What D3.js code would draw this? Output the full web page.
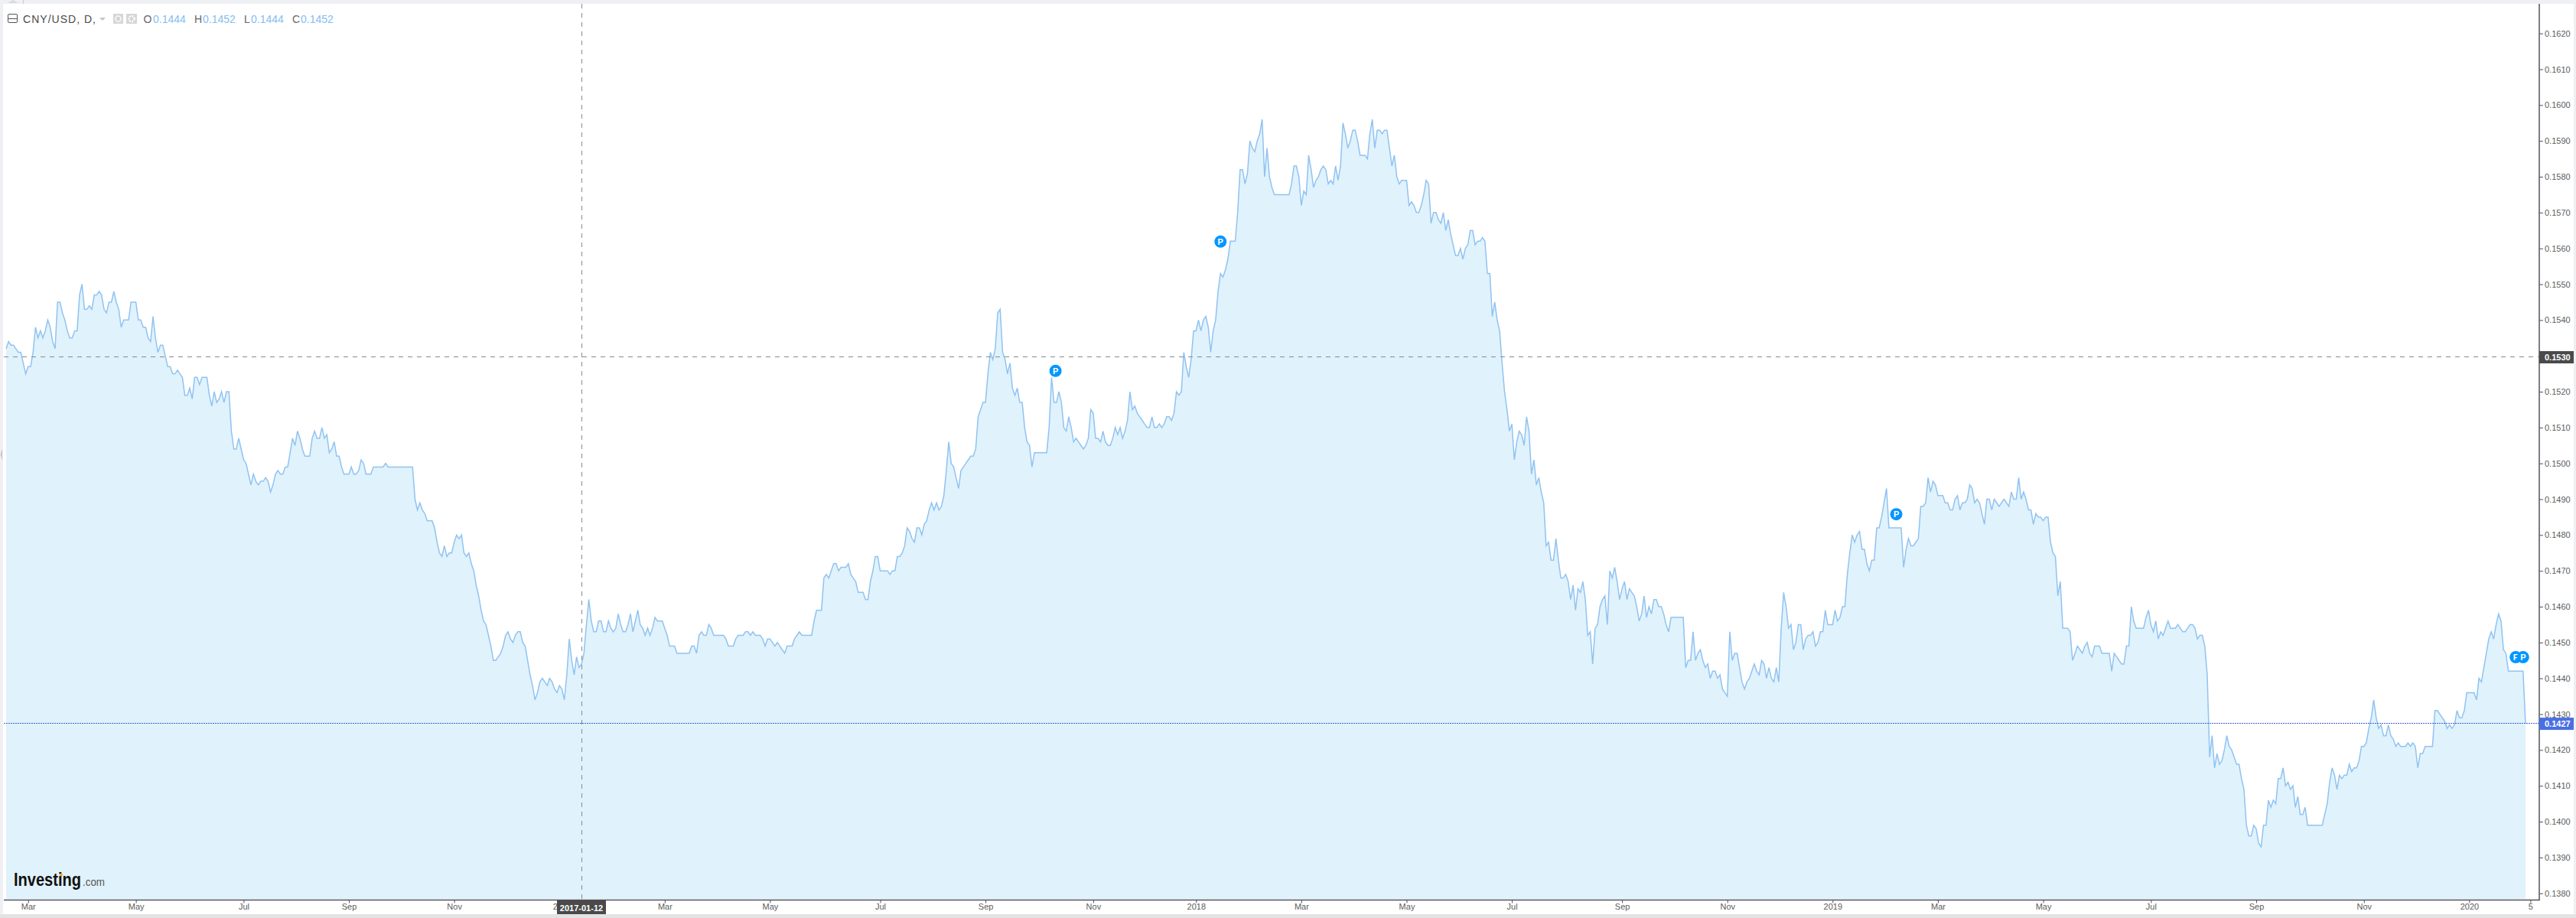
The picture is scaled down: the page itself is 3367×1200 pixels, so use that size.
<!DOCTYPE html>
<html>
<head>
<meta charset="utf-8">
<title>CNY/USD, D</title>
<script src="https://cdnjs.cloudflare.com/ajax/libs/d3/7.8.5/d3.min.js"></script>
<style>
    html, body { margin: 0; padding: 0; background: #ffffff; overflow: hidden; }
    svg { display: block; font-family: "Liberation Sans", Arial, sans-serif; }
</style>
</head>
<body>
<svg id="chart"></svg>
<script>
// Daily closes in 1/10000 USD, one value per trading day
const closes2016 = [
    1532,1534,1533,1533,1532,1531,1531,1528,1525,1527,1527,1531,1538,1535,1537,1535,1537,1540,1538,1534,
    1532,1545,1545,1542,1540,1537,1535,1535,1537,1537,1547,1550,1543,1543,1544,1543,1547,1547,1548,1547,
    1543,1542,1545,1545,1548,1545,1543,1538,1540,1540,1540,1545,1545,1545,1540,1540,1538,1538,1535,1534,
    1541,1535,1531,1533,1533,1530,1527,1527,1525,1525,1526,1525,1524,1519,1519,1521,1518,1524,1524,1522,
    1524,1524,1524,1519,1516,1520,1517,1518,1520,1517,1520,1520,1509,1504,1504,1507,1504,1501,1500,1497,
    1494,1497,1495,1494,1495,1495,1496,1495,1492,1494,1497,1498,1497,1497,1499,1499,1503,1507,1505,1509,
    1507,1504,1502,1502,1502,1507,1509,1507,1507,1510,1507,1508,1503,1504,1506,1502,1502,1499,1497,1497,
    1497,1499,1497,1497,1498,1501,1500,1497,1497,1497,1499,1499,1499,1499,1499,1500,1499,1499,1499,1499,
    1499,1499,1499,1499,1499,1499,1499,1490,1487,1489,1487,1486,1484,1484,1484,1482,1478,1475,1474,1477,
    1474,1475,1475,1478,1480,1479,1480,1475,1474,1475,1472,1470,1466,1463,1459,1456,1455,1452,1449,1445,
    1445,1446,1447,1449,1452,1453,1451,1450,1452,1453,1453,1450,1449,1445,1441,1438,1434,1436,1439,1440,
    1439,1438,1440,1439,1437,1436,1438
];
const closes2017 = [
    1437,1434,1441,1451,1445,1441,1446,1443,1444,1447,1455,1462,1456,1453,1453,1456,1456,1453,1453,1456,
    1454,1453,1454,1458,1455,1453,1453,1455,1458,1453,1456,1459,1455,1454,1452,1454,1452,1454,1457,1456,
    1456,1456,1454,1452,1449,1449,1449,1447,1447,1447,1447,1447,1447,1449,1449,1447,1452,1453,1452,1452,
    1455,1454,1452,1452,1452,1452,1452,1451,1449,1449,1449,1451,1452,1452,1452,1453,1453,1452,1453,1452,
    1452,1452,1451,1449,1451,1451,1450,1449,1450,1449,1448,1447,1449,1449,1449,1451,1452,1453,1452,1452,
    1452,1452,1452,1456,1459,1459,1459,1468,1469,1468,1470,1472,1472,1470,1471,1471,1471,1472,1469,1468,
    1467,1464,1464,1464,1462,1462,1467,1470,1474,1474,1470,1470,1470,1470,1469,1470,1470,1474,1474,1475,
    1477,1482,1481,1479,1478,1482,1482,1480,1483,1484,1487,1489,1487,1489,1487,1488,1491,1498,1506,1500,
    1499,1496,1493,1498,1499,1500,1501,1502,1502,1504,1513,1515,1517,1517,1525,1531,1529,1532,1542,1543,
    1531,1529,1525,1528,1521,1519,1521,1517,1517,1510,1506,1505,1499,1503,1503,1503,1503,1503,1503,1510,
    1524,1517,1517,1520,1517,1510,1509,1513,1510,1506,1507,1506,1505,1504,1505,1507,1515,1514,1507,1507,
    1506,1509,1506,1505,1505,1507,1510,1508,1510,1507,1509,1512,1520,1515,1516,1514,1513,1512,1511,1510,
    1510,1513,1510,1510,1511,1510,1511,1513,1513,1512,1514,1520,1519,1520,1531,1527,1524,1529,1537
];
const closes2018 = [
    1537,1540,1537,1540,1541,1538,1531,1537,1540,1548,1553,1552,1554,1557,1562,1562,1562,1570,1582,1582,
    1578,1581,1590,1588,1587,1590,1592,1596,1580,1588,1580,1577,1575,1575,1575,1575,1575,1575,1575,1578,
    1583,1583,1580,1572,1576,1575,1586,1582,1577,1579,1580,1582,1583,1582,1578,1579,1578,1583,1579,1583,
    1595,1592,1588,1590,1593,1593,1590,1586,1586,1586,1585,1592,1596,1588,1593,1593,1592,1593,1593,1588,
    1583,1586,1580,1578,1579,1579,1579,1572,1573,1572,1570,1570,1572,1575,1579,1578,1567,1570,1570,1568,
    1567,1570,1565,1568,1564,1561,1558,1558,1560,1557,1560,1561,1565,1565,1561,1562,1562,1563,1562,1553,
    1553,1541,1545,1540,1537,1528,1520,1515,1509,1511,1501,1506,1509,1508,1505,1513,1509,1497,1501,1494,
    1496,1492,1489,1477,1478,1473,1473,1479,1473,1468,1468,1469,1467,1462,1466,1459,1465,1464,1467,1462,
    1452,1453,1444,1454,1455,1460,1462,1463,1455,1470,1468,1471,1467,1462,1465,1467,1462,1465,1464,1463,
    1460,1456,1458,1463,1457,1460,1458,1462,1462,1460,1460,1458,1455,1453,1457,1457,1457,1457,1457,1457,
    1443,1445,1445,1453,1445,1447,1448,1445,1443,1444,1440,1442,1442,1440,1441,1437,1436,1435,1453,1445,
    1447,1447,1443,1439,1437,1439,1440,1442,1444,1442,1441,1445,1444,1440,1443,1440,1439,1443,1439,1454,
    1464,1460,1454,1455,1448,1450,1455,1455,1448,1451,1452,1452,1453,1449,1450,1453,1453,1459,1455,1455
];
const closes2019 = [
    1455,1459,1456,1457,1460,1460,1469,1475,1480,1478,1480,1481,1476,1476,1472,1470,1473,1473,1482,1482,
    1485,1489,1493,1482,1482,1482,1482,1482,1482,1471,1476,1479,1477,1477,1478,1479,1488,1488,1489,1496,
    1492,1495,1494,1491,1491,1491,1489,1489,1487,1487,1490,1491,1487,1489,1489,1490,1494,1493,1489,1490,
    1489,1486,1483,1490,1490,1487,1490,1489,1488,1489,1490,1489,1488,1492,1490,1490,1496,1490,1492,1490,
    1487,1487,1483,1486,1485,1485,1484,1485,1485,1478,1475,1474,1463,1467,1454,1454,1454,1453,1445,1447,
    1449,1448,1447,1449,1450,1447,1446,1449,1449,1449,1447,1447,1447,1447,1442,1447,1446,1445,1444,1444,
    1449,1449,1460,1456,1454,1454,1454,1454,1457,1459,1455,1453,1456,1451,1453,1452,1454,1456,1454,1454,
    1454,1455,1454,1453,1453,1454,1455,1455,1454,1451,1452,1452,1449,1441,1418,1424,1415,1419,1416,1417,
    1420,1424,1421,1420,1418,1416,1416,1412,1409,1399,1396,1396,1399,1398,1394,1393,1399,1399,1406,1404,
    1406,1405,1412,1412,1415,1410,1411,1409,1410,1404,1407,1402,1402,1404,1399,1399,1399,1399,1399,1399,
    1399,1402,1405,1411,1415,1413,1409,1413,1412,1413,1413,1416,1414,1415,1415,1417,1421,1421,1422,1426,
    1429,1434,1429,1426,1427,1424,1424,1427,1424,1423,1421,1422,1421,1421,1421,1422,1421,1422,1421,1415,
    1419,1419,1421,1421,1421,1421,1431,1431,1430,1429,1428,1426,1427,1426,1427,1431,1429,1429,1431,1436
];
const closes2020 = [
    1436,1436,1436,1434,1440,1439,1443,1447,1451,1453,1451,1455,1458,1456,1448,1447,1442,1442,1442,1442,1442,1442,1442,1427.4
];

// Time axis: the chart runs on trading-day index, not on calendar time
const tickBars = [9, 53, 97, 140, 183, 227, 269, 312, 357, 400, 444, 486, 529, 572, 615, 660, 703, 746, 789, 832, 876, 919, 963, 1006, 1031];
const tickLabels = ["Mar", "May", "Jul", "Sep", "Nov", "2017", "Mar", "May", "Jul", "Sep", "Nov", "2018", "Mar", "May", "Jul", "Sep", "Nov", "2019", "Mar", "May", "Jul", "Sep", "Nov", "2020", "5"];
const priceTicks = d3.range(1380, 1621, 10).map(d => d / 10000);

// Event bubbles on the line
const eventBars = [428.6, 496, 772, 1025, 1028];
const eventPrices = [0.15258, 0.15619, 0.14858, 0.14459, 0.14459];
const eventLetters = ["P", "P", "P", "F", "P"];

// Legend, crosshair and last price
const legendLabels = ["O", "H", "L", "C"];
const legendValues = ["0.1444", "0.1452", "0.1444", "0.1452"];
const crossBar = 235.1;
const crossPrice = 0.15297;
const crossDate = "2017-01-12";
const lastPrice = 0.14274;

const closes = [...closes2016, ...closes2017, ...closes2018, ...closes2019, ...closes2020].map(d => d / 10000);

// Dimensions
const width = 3367;
const height = 1200;
const axisX = 3319;
const axisY = 1176.5;
const frameRight = 3364;

const lineColor = "#90c3f2";
const areaColor = "#e0f2fb";
const axisColor = "#50535e";
const textColor = "#5d5d5d";
const bubbleColor = "#0496ff";

const svg = d3.select("#chart")
    .attr("width", width)
    .attr("height", height)
    .attr("viewBox", [0, 0, width, height]);

// Scales
const x = d3.scaleLinear().domain([0, 1029]).range([8, 3301]);
const y = d3.scaleLinear().domain([0.138, 0.162]).range([1167.7, 43.7]);

// Frame around the chart
svg.append("rect").attr("width", width).attr("height", height).attr("fill", "#eef0f4");
svg.append("rect").attr("x", 4).attr("y", 5).attr("width", frameRight - 4).attr("height", 1190).attr("fill", "#ffffff");
svg.append("rect").attr("x", 0).attr("y", 1195).attr("width", width).attr("height", 5).attr("fill", "#e3e3e3");
svg.append("path").attr("d", "M10,4 L17,0 L24,4 Z").attr("fill", "#cfd2d8").attr("opacity", 0.7);
svg.append("line").attr("x1", 30.5).attr("x2", 30.5).attr("y1", 0).attr("y2", 5).attr("stroke", "#c9ccd2");
svg.append("path").attr("d", "M3,586 L0.5,594 L3,602 Z").attr("fill", "#c8c8c8");

// Area and line
const area = d3.area()
    .x((d, i) => x(i))
    .y0(1175)
    .y1(d => y(d));

const line = d3.line()
    .x((d, i) => x(i))
    .y(d => y(d));

svg.append("path")
    .datum(closes)
    .attr("d", area)
    .attr("fill", areaColor);

svg.append("path")
    .datum(closes)
    .attr("d", line)
    .attr("fill", "none")
    .attr("stroke", lineColor)
    .attr("stroke-width", 1.5)
    .attr("stroke-linejoin", "miter");

// Last price line, snapped to the pixel grid
const lastY = Math.floor(y(lastPrice)) + 0.5;
svg.append("line")
    .attr("x1", 5).attr("x2", axisX)
    .attr("y1", lastY).attr("y2", lastY)
    .attr("stroke", "#3f63d9")
    .attr("stroke-width", 1)
    .attr("stroke-dasharray", "2 1");

// Crosshair
const crossX = Math.floor(x(crossBar)) + 0.5;
const crossY = Math.floor(y(crossPrice)) + 0.5;
svg.append("line")
    .attr("x1", crossX).attr("x2", crossX)
    .attr("y1", 5).attr("y2", axisY)
    .attr("stroke", "#8a8a8a")
    .attr("stroke-dasharray", "6 6");

svg.append("line")
    .attr("x1", 5).attr("x2", axisX)
    .attr("y1", crossY).attr("y2", crossY)
    .attr("stroke", "#8a8a8a")
    .attr("stroke-dasharray", "6 6");

// Event bubbles
const bubbles = svg.append("g")
    .selectAll("g")
    .data(eventLetters)
    .join("g")
    .attr("transform", (d, i) => `translate(${x(eventBars[i])},${y(eventPrices[i])})`);

bubbles.append("circle")
    .attr("r", 8)
    .attr("fill", bubbleColor);

bubbles.append("text")
    .attr("text-anchor", "middle")
    .attr("y", 4)
    .attr("fill", "#ffffff")
    .style("font-size", "11px")
    .style("font-weight", "bold")
    .text(d => d);

// Price axis
const priceAxis = svg.append("g")
    .attr("transform", `translate(${axisX},0)`)
    .call(d3.axisRight(y).tickValues(priceTicks).tickFormat(d3.format(".4f")).tickSize(5).tickPadding(2));

priceAxis.select(".domain").remove();
priceAxis.selectAll("line").attr("stroke", axisColor);
priceAxis.selectAll("text")
    .attr("fill", textColor)
    .style("font-size", "11px")
    .style("font-family", "Liberation Sans");

// Time axis
const timeAxis = svg.append("g")
    .attr("transform", `translate(0,${axisY})`)
    .call(d3.axisBottom(x).tickValues(tickBars).tickFormat((d, i) => tickLabels[i]).tickSize(4).tickPadding(1));

timeAxis.select(".domain").remove();
timeAxis.selectAll("line").attr("stroke", axisColor);
timeAxis.selectAll("text")
    .attr("fill", textColor)
    .style("font-size", "11px")
    .style("font-family", "Liberation Sans");

svg.append("line")
    .attr("x1", 5).attr("x2", axisX + 0.75)
    .attr("y1", axisY).attr("y2", axisY)
    .attr("stroke", axisColor)
    .attr("stroke-width", 1.5);

svg.append("line")
    .attr("x1", axisX).attr("x2", axisX)
    .attr("y1", 5).attr("y2", axisY)
    .attr("stroke", axisColor)
    .attr("stroke-width", 1.5);

// Value tags on the axes
function priceTag(price, fill, label) {
    const cy = y(price) + 0.4;
    svg.append("rect")
        .attr("x", axisX).attr("y", cy - 8)
        .attr("width", frameRight - axisX).attr("height", 16)
        .attr("fill", fill);
    svg.append("text")
        .attr("x", axisX + 7).attr("y", cy + 4)
        .attr("fill", "#ffffff")
        .style("font-size", "11px")
        .style("font-weight", "bold")
        .text(label);
}
priceTag(lastPrice, "#4a6fe3", d3.format(".4f")(lastPrice));
priceTag(crossPrice, "#4a4a4a", d3.format(".4f")(crossPrice));

svg.append("rect")
    .attr("x", crossX - 32.5).attr("y", axisY)
    .attr("width", 64).attr("height", 18.5)
    .attr("fill", "#4a4a4a");
svg.append("text")
    .attr("x", crossX - 0.5).attr("y", 1191)
    .attr("text-anchor", "middle")
    .attr("fill", "#ffffff")
    .style("font-size", "11px")
    .style("font-weight", "bold")
    .text(crossDate);

// Legend row
const legend = svg.append("g");
legend.append("rect")
    .attr("x", 10.5).attr("y", 18.5).attr("width", 12).attr("height", 11).attr("rx", 1.5)
    .attr("fill", "none").attr("stroke", "#555555");
legend.append("line")
    .attr("x1", 10.5).attr("x2", 22.5).attr("y1", 24.5).attr("y2", 24.5)
    .attr("stroke", "#555555");
legend.append("text")
    .attr("x", 30).attr("y", 29.5)
    .attr("fill", "#4a4a4a")
    .style("font-size", "14px")
    .attr("textLength", 95)
    .text("CNY/USD, D,");
legend.append("path").attr("d", "M130,23 L138,23 L134,27 Z").attr("fill", "#c4c4c4");
legend.append("rect").attr("x", 148).attr("y", 18).attr("width", 13).attr("height", 13).attr("fill", "#d6d6d6");
legend.append("rect").attr("x", 165).attr("y", 18).attr("width", 14).attr("height", 13).attr("fill", "#d6d6d6");
legend.append("circle").attr("cx", 154.5).attr("cy", 24.5).attr("r", 3.6)
    .attr("fill", "none").attr("stroke", "#ffffff").attr("stroke-width", 1.4);
legend.append("circle").attr("cx", 172).attr("cy", 24.5).attr("r", 3.6)
    .attr("fill", "none").attr("stroke", "#ffffff").attr("stroke-width", 2.4).attr("stroke-dasharray", "2 1.3");

const legendLabelX = [187.5, 254, 319, 382];
const legendValueX = [200, 265, 328, 393];
legend.selectAll(".ohlc-label")
    .data(legendLabels)
    .join("text")
    .attr("class", "ohlc-label")
    .attr("x", (d, i) => legendLabelX[i]).attr("y", 29.5)
    .attr("fill", "#666666")
    .style("font-size", "14px")
    .text(d => d);
legend.selectAll(".ohlc-value")
    .data(legendValues)
    .join("text")
    .attr("class", "ohlc-value")
    .attr("x", (d, i) => legendValueX[i]).attr("y", 29.5)
    .attr("fill", "#85bdf0")
    .style("font-size", "14px")
    .text(d => d);

// Investing.com logo
const logo = svg.append("g");
logo.append("text")
    .attr("x", 18).attr("y", 1158)
    .attr("fill", "#111111")
    .style("font-size", "23px")
    .style("font-weight", "bold")
    .attr("textLength", 88)
    .attr("lengthAdjust", "spacingAndGlyphs")
    .text("Investing");
logo.append("text")
    .attr("x", 108).attr("y", 1158)
    .attr("fill", "#555555")
    .style("font-size", "14px")
    .attr("textLength", 29)
    .attr("lengthAdjust", "spacingAndGlyphs")
    .text(".com");
logo.append("circle").attr("cx", 80).attr("cy", 1143.5).attr("r", 1.9).attr("fill", "#f7a81b");
</script>
</body>
</html>
